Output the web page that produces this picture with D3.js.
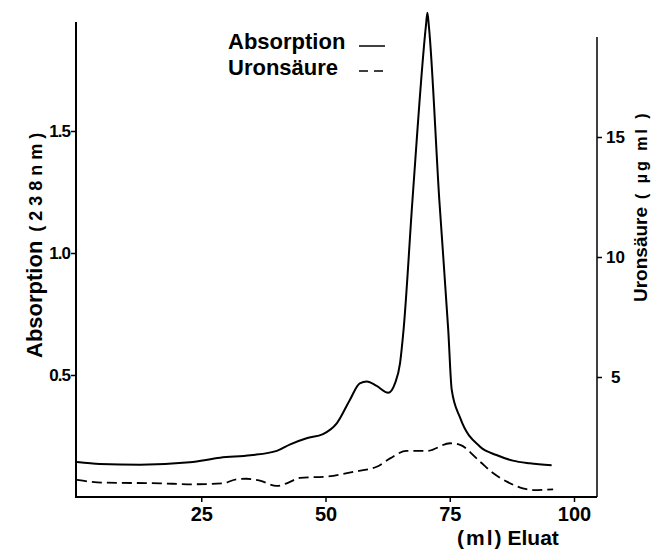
<!DOCTYPE html>
<html>
<head>
<meta charset="utf-8">
<script src="https://cdn.jsdelivr.net/npm/d3@7"></script>
<style>
  body { margin: 0; background: #fff; }
  text { font-family: "Liberation Sans", Arial, sans-serif; font-weight: bold; fill: #000; }
</style>
</head>
<body>
<svg width="652" height="550"></svg>
<script>
// Eluat volume (ml) and absorption at 238 nm
const absMl  = [0, 4.6, 12.7, 22.7, 28.8, 34.9, 40.2, 42.9, 46.2, 49.5, 52.3, 54.9, 56.9, 58.3, 60.3, 62.6, 64.0, 65.0, 65.7, 67.5, 70.2, 70.5, 70.8, 72.9, 74.7, 75.4, 77.1, 81.1, 84.4, 87.7, 91.1, 95.5];
const absVal = [0.143, 0.135, 0.132, 0.142, 0.161, 0.171, 0.189, 0.216, 0.241, 0.258, 0.303, 0.398, 0.466, 0.473, 0.455, 0.427, 0.467, 0.549, 0.684, 1.217, 1.93, 1.985, 1.93, 1.217, 0.684, 0.439, 0.324, 0.206, 0.172, 0.149, 0.138, 0.130];

// Uronsäure (µg/ml)
const uroMl  = [0, 5.2, 16.7, 23.3, 29.4, 32.1, 34.1, 36.8, 40.2, 42.2, 44.9, 50.2, 55.6, 60.3, 63.0, 66.3, 70.4, 75.1, 77.1, 81.1, 83.7, 86.5, 89.7, 91.8, 95.8];
const uroVal = [0.71, 0.60, 0.57, 0.53, 0.57, 0.74, 0.76, 0.68, 0.46, 0.57, 0.80, 0.85, 1.05, 1.26, 1.61, 1.92, 1.92, 2.24, 2.17, 1.47, 1.00, 0.64, 0.36, 0.29, 0.32];

const xTicks = [25, 50, 75, 100];
const leftTicks = [0.5, 1.0, 1.5];
const rightTicks = [5, 10, 15];

const absData = absMl.map((m, i) => ({ml: m, v: absVal[i]}));
const uroData = uroMl.map((m, i) => ({ml: m, v: uroVal[i]}));

const svg = d3.select("svg");

const x = d3.scaleLinear().domain([0, 100]).range([77, 574]);
const y = d3.scaleLinear().domain([0, 1.5]).range([497, 131]);
const yR = d3.scaleLinear().domain([0, 15]).range([497, 137]);

const left = 76, right = 597, bottom = 497;

// frame lines
svg.append("line").attr("x1", left).attr("x2", left).attr("y1", 22).attr("y2", bottom)
  .attr("stroke", "#000").attr("stroke-width", 2);
svg.append("line").attr("x1", right).attr("x2", right).attr("y1", 37).attr("y2", bottom)
  .attr("stroke", "#000").attr("stroke-width", 1.5);
svg.append("line").attr("x1", left - 1).attr("x2", right).attr("y1", bottom).attr("y2", bottom)
  .attr("stroke", "#000").attr("stroke-width", 2);

// axes
const gl = svg.append("g").attr("transform", `translate(${left},0)`)
  .call(d3.axisLeft(y).tickValues(leftTicks).tickFormat(d3.format(".1f")).tickSize(5).tickPadding(1));
gl.selectAll("text").style("font-size", "17px").attr("letter-spacing", "-1");

const gr = svg.append("g").attr("transform", `translate(${right},0)`)
  .call(d3.axisRight(yR).tickValues(rightTicks).tickSize(5).tickPadding(4));
gr.selectAll("text").style("font-size", "17px").attr("dx", d => d === 5 ? 5 : 0);

const gb = svg.append("g").attr("transform", `translate(0,${bottom})`)
  .call(d3.axisBottom(x).tickValues(xTicks).tickSize(5).tickPadding(5));
gb.selectAll("text").style("font-size", "20px");

svg.selectAll(".domain").remove();
svg.selectAll(".tick line").attr("stroke", "#000").attr("stroke-width", 1.5);

// curves
const lineA = d3.line().x(d => x(d.ml)).y(d => y(d.v)).curve(d3.curveMonotoneX);
const lineU = d3.line().x(d => x(d.ml)).y(d => yR(d.v)).curve(d3.curveMonotoneX);

svg.append("path").datum(absData)
  .attr("fill", "none").attr("stroke", "#000").attr("stroke-width", 2)
  .attr("stroke-linejoin", "round").attr("d", lineA);

svg.append("path").datum(uroData)
  .attr("fill", "none").attr("stroke", "#000").attr("stroke-width", 1.8)
  .attr("stroke-dasharray", "10,5").attr("d", lineU);

// legend
svg.append("text").attr("x", 228).attr("y", 49).style("font-size", "22px").text("Absorption");
svg.append("text").attr("x", 228).attr("y", 75).style("font-size", "22px").text("Uronsäure");
svg.append("line").attr("x1", 359).attr("x2", 385).attr("y1", 46).attr("y2", 46)
  .attr("stroke", "#000").attr("stroke-width", 1.5);
svg.append("line").attr("x1", 359).attr("x2", 385).attr("y1", 71).attr("y2", 71)
  .attr("stroke", "#000").attr("stroke-width", 1.5).attr("stroke-dasharray", "9,6");

// axis titles
const yl = svg.append("text")
  .attr("transform", "translate(42,358) rotate(-90)")
  .style("font-size", "22px");
yl.append("tspan").text("Absorption");
yl.append("tspan").attr("dx", 9).style("font-size", "18px").attr("letter-spacing", 5).text("(238nm)");

const yr = svg.append("text")
  .attr("transform", "translate(647,302) rotate(-90)")
  .style("font-size", "19px");
yr.append("tspan").text("Uronsäure");
yr.append("tspan").attr("dx", 8).style("font-size", "16px").attr("letter-spacing", 3).text("( µg ml )");

const xl = svg.append("text").attr("x", 457).attr("y", 545).style("font-size", "21px");
xl.append("tspan").attr("letter-spacing", 2).text("(ml)");
xl.append("tspan").attr("dx", 4).text("Eluat");
</script>
</body>
</html>
